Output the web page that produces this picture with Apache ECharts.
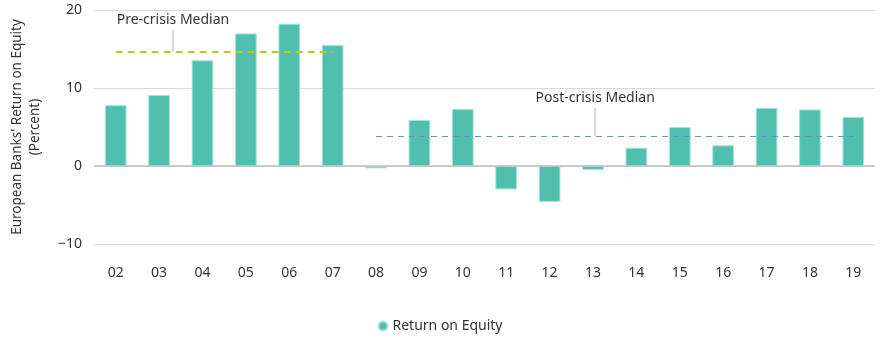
<!DOCTYPE html>
<html>
<head>
<meta charset="utf-8">
<script src="https://cdn.jsdelivr.net/npm/echarts@6/dist/echarts.min.js"></script>
<style>
  html, body { margin: 0; padding: 0; background: #fff; }
  #chart { width: 880px; height: 338px; }
</style>
</head>
<body>
<div id="chart"></div>
<script>
  // data
  const years = ['02', '03', '04', '05', '06', '07', '08', '09', '10', '11', '12', '13', '14', '15', '16', '17', '18', '19'];
  const roe = [7.8, 9.1, 13.55, 17.0, 18.25, 15.5, -0.3, 5.9, 7.3, -3.0, -4.6, -0.5, 2.35, 5.0, 2.65, 7.45, 7.25, 6.3];
  const yTicks = [-10, 0, 10, 20];
  const preMedian = 14.6;
  const postMedian = 3.8;

  const font = 'Noto Sans';
  const textColor = '#333';

  // helper: category index as a number on the hidden value axis
  let idx = y => years.indexOf(y);

  let chart = echarts.init(document.getElementById('chart'));

  let option = {
    animation: false,
    textStyle: {fontFamily: font},
    grid: {left: 94, right: 5, top: 10, bottom: 94, outerBoundsMode: 'none'},
    legend: {
      data: ['Return on Equity'],
      bottom: 0,
      left: 'center',
      icon: 'circle',
      itemWidth: 9,
      itemHeight: 9,
      itemGap: 4,
      textStyle: {color: textColor, fontSize: 14, fontFamily: font},
    },
    xAxis: [
      {
        type: 'category',
        data: years,
        axisLine: {show: false},
        axisTick: {show: false},
        axisLabel: {color: textColor, fontSize: 14, margin: 22, fontFamily: font},
      },
      {
        // hidden value axis lined up with category centres, for annotations
        type: 'value',
        min: -0.5,
        max: years.length - 0.5,
        show: false,
      },
    ],
    yAxis: {
      type: 'value',
      min: yTicks[0],
      max: yTicks[yTicks.length - 1],
      interval: 10,
      name: "European Banks' Return on Equity\n(Percent)",
      nameLocation: 'middle',
      nameRotate: 90,
      nameGap: 50,
      nameTextStyle: {color: textColor, fontSize: 13.5, lineHeight: 18, fontFamily: font},
      axisLine: {show: false},
      axisTick: {show: false},
      axisLabel: {
        color: textColor, fontSize: 14, margin: 12, fontFamily: font,
        formatter: v => v < 0 ? '\u2212' + Math.abs(v) : String(v),
      },
      splitLine: {lineStyle: {color: '#d9d9d9', width: 1}},
    },
    series: [
      {
        name: 'Return on Equity',
        type: 'bar',
        data: roe,
        barWidth: '50%',
        itemStyle: {color: '#50bfae', borderColor: '#a6e3d8', borderWidth: 1},
      },
      {
        // zero line + median annotations
        type: 'line',
        xAxisIndex: 1,
        data: [],
        markLine: {
          silent: true,
          symbol: 'none',
          animation: false,
          data: [
            {yAxis: 0, lineStyle: {color: '#bdbdbd', type: 'solid', width: 1.5}, label: {show: false}},
            // pre-crisis median
            [
              {coord: [idx('02'), preMedian], lineStyle: {color: '#b7cc1e', type: [7, 5], width: 2}, label: {show: false}},
              {coord: [idx('07'), preMedian]},
            ],
            [
              {coord: [1.32, preMedian], lineStyle: {color: '#c8c8c8', type: 'solid', width: 1.5},
                label: {show: true, position: 'end', formatter: 'Pre-crisis Median', color: textColor, fontSize: 14, distance: 3}},
              {coord: [1.32, 17.4]},
            ],
            // post-crisis median
            [
              {coord: [idx('08'), postMedian], lineStyle: {color: '#6f8fc9', type: [6, 5], width: 1}, label: {show: false}},
              {coord: [idx('19'), postMedian]},
            ],
            [
              {coord: [11.05, postMedian], lineStyle: {color: '#c8c8c8', type: 'solid', width: 1.5},
                label: {show: true, position: 'end', formatter: 'Post-crisis Median', color: textColor, fontSize: 14, distance: 3}},
              {coord: [11.05, 7.4]},
            ],
          ],
        },
      },
    ],
  };

  chart.setOption(option);
</script>
</body>
</html>
